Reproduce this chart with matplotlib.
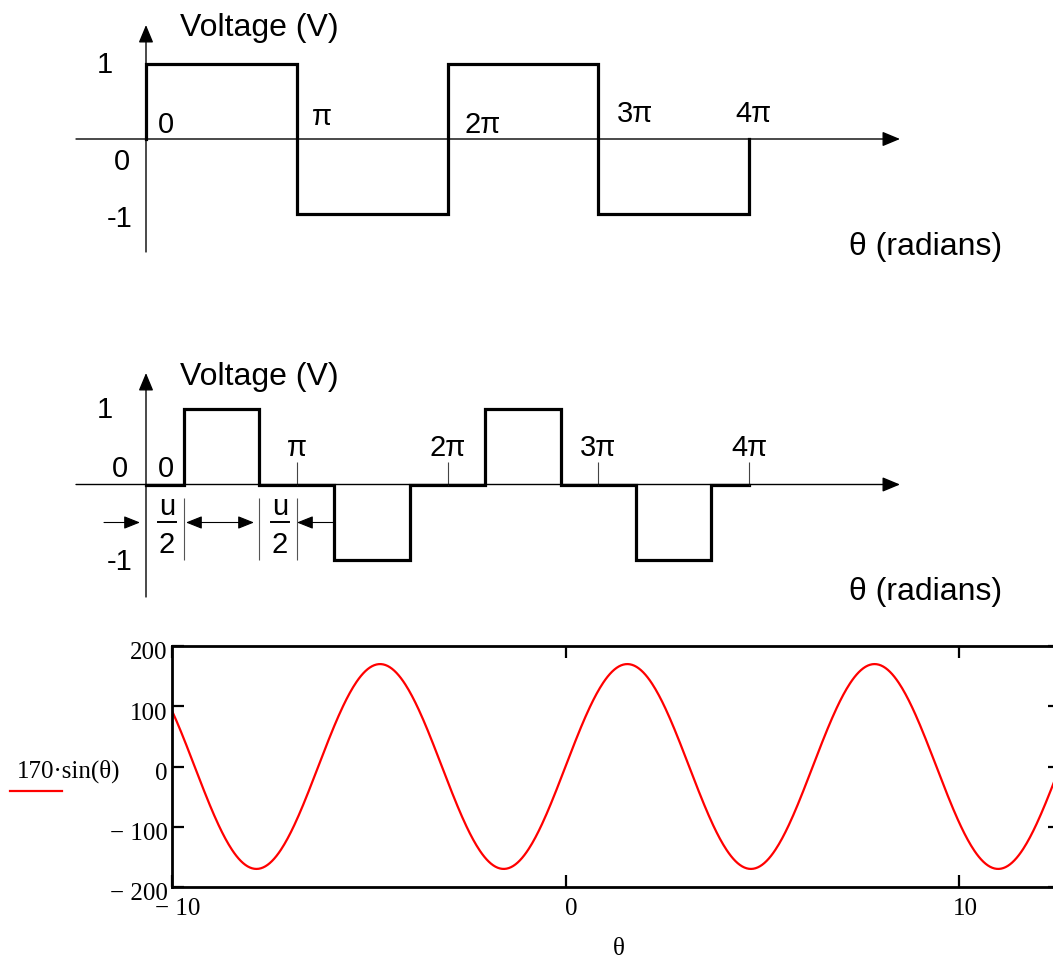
import numpy as np
import matplotlib.pyplot as plt
from matplotlib.lines import Line2D
from matplotlib.transforms import ScaledTranslation

W, H = 1053, 959
PI = np.pi

#Top panel: plain square wave
sq_theta = [0, 0, PI, 2*PI, 3*PI, 4*PI, 4*PI]
sq_volt = [0, 1, -1, 1, -1, -1, 0]
sq_tick_theta = [0, PI, 2*PI, 3*PI, 4*PI]
sq_tick_labels = ["0", "π", "2π", "3π", "4π"]

#Middle panel: quasi square wave with u/2 dead bands
qs_theta = [0, PI/4, 3*PI/4, 5*PI/4, 7*PI/4, 9*PI/4, 11*PI/4, 13*PI/4, 15*PI/4, 4*PI]
qs_volt = [0, 1, 0, -1, 0, 1, 0, -1, 0, 0]
qs_tick_theta = [PI, 2*PI, 3*PI, 4*PI]
qs_tick_labels = ["π", "2π", "3π", "4π"]

volt_levels = [1, 0, -1]
volt_labels = ["1", "0", "-1"]

#Bottom panel: mathcad style sine plot
amplitude = 170
sin_theta = np.linspace(-10, 4*PI, 800)
sin_xticks = [-10, 0, 10]
sin_xlabels = ["\u2212 10", "0", "10"]
sin_yticks = [-200, -100, 0, 100, 200]
sin_ylabels = ["\u2212 200", "\u2212 100", "0", "100", "200"]

SANS = "Liberation Sans"
SERIF = "Liberation Serif"

fig = plt.figure(figsize=(W/100, H/100), dpi=100)

#pixels per radian, theta=0 at x=146px, 4pi at x=749px
px_rad = (749 - 146) / (4*PI)

def schem_axes(top_px, bot_px, zero_px, unit_px):
    ax = fig.add_axes([0, 1 - bot_px/H, 1, (bot_px - top_px)/H])
    ax.set_xlim(-146/px_rad, (W - 146)/px_rad)
    ax.set_ylim((zero_px - bot_px)/unit_px, (zero_px - top_px)/unit_px)
    ax.axis('off')
    tx = lambda px: (px - 146)/px_rad
    ty = lambda py: (zero_px - py)/unit_px
    return ax, tx, ty

axis_arrow = dict(arrowstyle='-|>,head_length=0.6,head_width=0.25', color='black',
                  lw=1.0, mutation_scale=18, shrinkA=0, shrinkB=0)
dim_arrow = dict(arrowstyle='-|>,head_length=0.55,head_width=0.22', color='black',
                 lw=0.8, mutation_scale=18, shrinkA=0, shrinkB=0)
both_arrow = dict(arrowstyle='<|-|>,head_length=0.55,head_width=0.22', color='black',
                  lw=0.8, mutation_scale=18, shrinkA=0, shrinkB=0)

fs = 21
fs_title = 23

#--- top panel ---
ax1, tx, ty = schem_axes(0, 300, 139, 75)
ax1.annotate('', xy=(tx(900), 0), xytext=(tx(76), 0), arrowprops=axis_arrow)
ax1.annotate('', xy=(0, ty(25)), xytext=(0, ty(252)), arrowprops=axis_arrow)
ax1.plot(sq_theta, sq_volt, drawstyle='steps-post', color='black', lw=2.3,
         solid_joinstyle='miter')
ax1.text(tx(180), ty(36), "Voltage (V)", fontsize=fs_title, family=SANS, va='baseline')
ax1.text(tx(849), ty(255), "θ (radians)", fontsize=fs_title, family=SANS, va='baseline')
for v, lab, bx, by in zip(volt_levels, volt_labels, [113, 130, 132], [73, 170, 227]):
    ax1.text(tx(bx), ty(by), lab, fontsize=fs, family=SANS, ha='right', va='baseline')
for th, lab, lx, by in zip(sq_tick_theta, sq_tick_labels,
                           [158, 312, 465, 617, 735], [133, 125, 133, 122, 122]):
    ax1.text(tx(lx), ty(by), lab, fontsize=fs, family=SANS, ha='left', va='baseline')

#--- middle panel ---
ax2, tx, ty = schem_axes(300, 620, 484.5, 75.5)
ax2.annotate('', xy=(tx(900), 0), xytext=(tx(76), 0), arrowprops=axis_arrow)
ax2.annotate('', xy=(0, ty(373)), xytext=(0, ty(597)), arrowprops=axis_arrow)
ax2.plot(qs_theta, qs_volt, drawstyle='steps-post', color='black', lw=2.3,
         solid_joinstyle='miter')
ax2.vlines(qs_tick_theta, 0, ty(462), color='#444444', lw=0.8)
ax2.text(tx(180), ty(385), "Voltage (V)", fontsize=fs_title, family=SANS, va='baseline')
ax2.text(tx(849), ty(600), "θ (radians)", fontsize=fs_title, family=SANS, va='baseline')
for v, lab, bx, by in zip(volt_levels, volt_labels, [113, 128, 132], [418, 477, 570]):
    ax2.text(tx(bx), ty(by), lab, fontsize=fs, family=SANS, ha='right', va='baseline')
ax2.text(tx(158), ty(477), "0", fontsize=fs, family=SANS, ha='left', va='baseline')
for th, lab in zip(qs_tick_theta, qs_tick_labels):
    ax2.text(th, ty(456), lab, fontsize=fs, family=SANS, ha='center', va='baseline')

#dimension lines for u/2
dim_theta = [PI/4, 3*PI/4, PI]
ax2.vlines(dim_theta, ty(498), -1.0, color='#555555', lw=0.8)
yd = ty(522.5)
ax2.annotate('', xy=(tx(140), yd), xytext=(tx(104), yd), arrowprops=dim_arrow)
ax2.annotate('', xy=(tx(254), yd), xytext=(tx(186), yd), arrowprops=both_arrow)
ax2.annotate('', xy=(tx(297), yd), xytext=(5*PI/4, yd), arrowprops=dim_arrow)
for cx in [167, 280]:
    ax2.text(tx(cx), ty(515), "u", fontsize=fs, family=SANS, ha='center', va='baseline')
    ax2.text(tx(cx), ty(553), "2", fontsize=fs, family=SANS, ha='center', va='baseline')
    ax2.plot([tx(cx - 9), tx(cx + 9)], [ty(522), ty(522)], color='black', lw=1.4)

#--- bottom panel ---
ax3 = fig.add_axes([172/W, 1 - 887/H, (1060 - 172)/W, (887 - 646)/H])
ax3.plot(sin_theta, amplitude*np.sin(sin_theta), color='red', lw=1.6)
ax3.set_xlim(-10, 4*PI)
ax3.set_ylim(-200, 200)
ax3.set_xticks(sin_xticks)
ax3.set_xticklabels(sin_xlabels)
ax3.set_yticks(sin_yticks)
ax3.set_yticklabels(sin_ylabels)
ax3.tick_params(direction='in', length=8.5, width=1.6, top=True, right=True,
                labelsize=18, colors='black')
ax3.tick_params(axis='x', pad=8)
ax3.tick_params(axis='y', pad=3)
for s in ax3.spines.values():
    s.set_linewidth(2.0)
for lab in ax3.get_xticklabels() + ax3.get_yticklabels():
    lab.set_family(SERIF)
shift_x = ScaledTranslation(6/100, 0, fig.dpi_scale_trans)
shift_y = ScaledTranslation(0, -5/100, fig.dpi_scale_trans)
for lab in ax3.get_xticklabels():
    lab.set_transform(lab.get_transform() + shift_x)
for lab in ax3.get_yticklabels():
    lab.set_transform(lab.get_transform() + shift_y)

fig.text(17/W, 1 - 778/H, "170\u00b7sin(θ)", fontsize=18, family=SERIF, va='baseline')
fig.add_artist(Line2D([10/W, 62/W], [1 - 790.5/H, 1 - 790.5/H], color='red', lw=1.6))
fig.text(619/W, 1 - 949/H, "θ", fontsize=18, family=SERIF, ha='center', va='center')

fig.savefig("out.png", dpi=100)
